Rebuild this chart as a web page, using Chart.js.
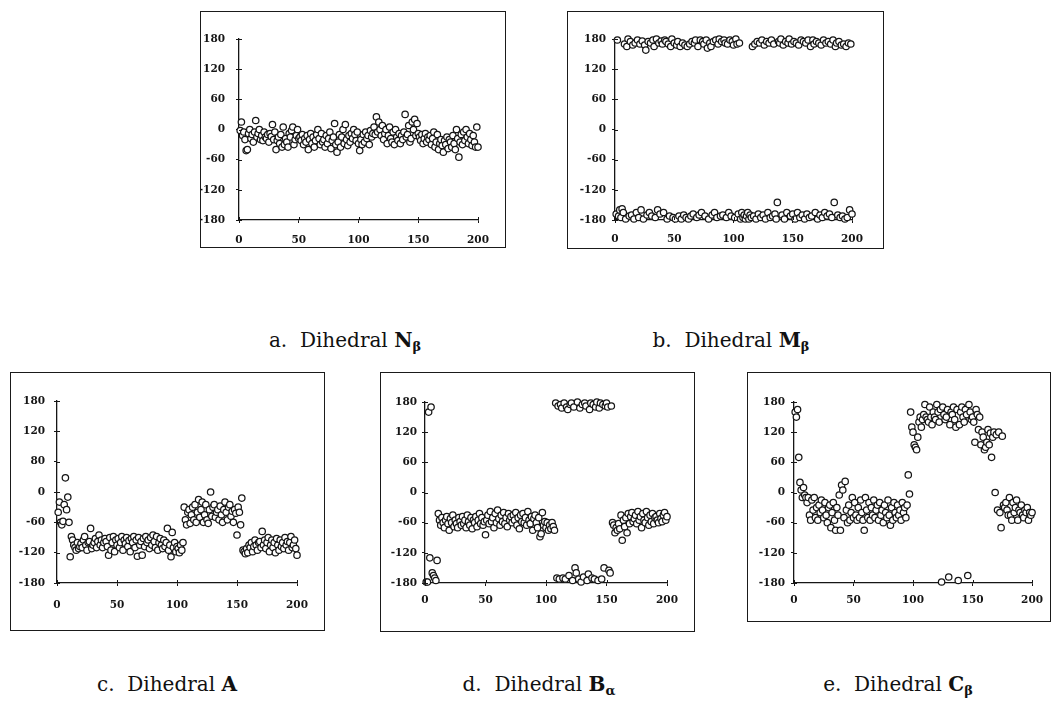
<!DOCTYPE html>
<html><head><meta charset="utf-8">
<script src="https://cdn.jsdelivr.net/npm/chart.js@4.4.1/dist/chart.umd.min.js"></script>
<style>
html,body{margin:0;padding:0;background:#fff;width:1051px;height:706px;overflow:hidden;}
.panel{position:absolute;}
.panel canvas{position:absolute;left:0;top:0;}
.frame{position:absolute;border:1.3px solid #1a1a1a;box-sizing:border-box;pointer-events:none;}
.cap{position:absolute;width:400px;text-align:center;font-family:"DejaVu Serif",serif;font-size:20px;line-height:24px;color:#111;white-space:nowrap;}
.cap b{font-weight:bold;}
.cap .sub{font-weight:bold;font-size:13px;vertical-align:-4px;}
</style></head><body>
<div class="cap" style="left:145px;top:328px;">a.&nbsp; Dihedral <b>N</b><span class="sub">β</span></div>
<div class="cap" style="left:531px;top:328px;">b.&nbsp; Dihedral <b>M</b><span class="sub">β</span></div>
<div class="cap" style="left:-33px;top:672px;">c.&nbsp; Dihedral <b>A</b></div>
<div class="cap" style="left:339px;top:672px;">d.&nbsp; Dihedral <b>B</b><span class="sub">α</span></div>
<div class="cap" style="left:698px;top:672px;">e.&nbsp; Dihedral <b>C</b><span class="sub">β</span></div>
<script>
// ---- data ----
const xTicks = [0, 50, 100, 150, 200];
const xLabels = ['0', '50', '100', '150', '200'];
const yTicks = [-180, -120, -60, 0, 60, 120, 180];
const yLabels = ['-180', '-120', '-60', '0', '60', '120', '180'];
const yLabelsC = ['-180', '-120', '-60', '0', '80', '120', '180'];

const dihedralNb = [
-2,15,-12,-5,-20,-42,-40,-8,0,-18,
-10,-25,-5,18,-15,-8,0,-20,-12,-22,
-5,-15,-18,-10,-25,-8,-14,10,-20,-5,
-40,-22,-15,-28,-10,-35,5,-30,-18,-25,
-35,-8,-15,-2,5,-30,-20,-12,0,-18,
-15,-22,-10,-30,-18,-25,-12,-40,-20,-8,
-28,-15,-35,-22,-10,0,-18,-30,-8,-25,
-20,-35,-12,-28,-18,-5,-38,-22,-15,12,
-30,-45,-25,-10,-35,-15,0,-28,10,-20,
-32,-12,-25,-8,-18,0,-10,-22,-5,-28,
-42,-20,-30,-10,-25,-5,-18,-12,-30,-2,
-15,-8,5,-10,25,-5,15,0,-12,8,
-20,-8,0,-28,-12,5,-18,-25,-5,-30,
0,-15,-22,-8,-28,-12,-20,-5,30,-15,
-10,8,-25,-18,15,0,20,-12,12,-8,
-15,-22,-10,-28,-18,-8,-25,-15,-20,-12,
-30,-18,-5,-35,-25,-10,-40,-28,-20,-32,
-45,-22,-30,-15,-38,-20,-25,-35,-12,-28,
-40,0,-18,-55,-25,-10,-30,-5,-22,0,
-15,-28,-8,-20,-32,-12,-25,-35,5,-35];

const dihedralMb = [
-168,178,-172,-160,-175,-158,-165,170,-178,165,
180,-172,175,-170,168,-178,172,-165,178,-175,
170,-160,176,-178,168,158,-170,175,-165,172,
-172,178,165,-175,180,-160,172,-168,176,170,
-165,178,175,-178,170,-172,165,180,-175,172,
-178,168,175,-172,165,-178,172,-170,168,-175,
165,-178,170,-172,175,-168,172,178,-175,165,
-170,178,-165,175,170,-172,178,162,-178,172,
165,-170,175,-165,178,-175,170,180,-172,175,
-170,178,172,-175,170,-165,178,-172,175,168,
-175,180,170,-168,172,-178,-165,-175,-170,-178,
-172,-165,-178,-170,-175,165,-172,170,-178,175,
-168,172,-175,178,-170,168,-178,175,-165,172,
-175,178,-172,170,-168,-178,-145,175,172,180,
-170,168,-178,175,-165,172,180,-172,170,-168,
175,-178,172,-165,168,-175,178,-170,175,-178,
172,-168,178,-175,165,-172,178,170,-165,175,
-178,172,-170,168,-175,178,-165,172,-172,175,
-168,170,-175,178,-145,165,172,-170,175,-175,
168,-172,170,-178,165,-175,172,-160,170,-168];

const dihedralA = [
-40,-20,-60,-65,-58,-25,28,-35,-10,-60,
-128,-88,-95,-105,-110,-115,-100,-112,-108,-102,
-110,-95,-88,-105,-115,-100,-98,-72,-112,-105,
-100,-92,-110,-98,-85,-105,-95,-110,-100,-92,
-98,-108,-125,-90,-115,-100,-88,-118,-95,-105,
-92,-110,-100,-88,-115,-95,-102,-90,-108,-96,
-118,-92,-100,-88,-110,-95,-127,-90,-105,-98,
-125,-92,-108,-88,-100,-95,-112,-90,-105,-85,
-98,-110,-88,-115,-100,-92,-105,-112,-95,-108,
-100,-72,-115,-105,-128,-80,-110,-100,-118,-108,
-112,-120,-105,-115,-100,-30,-55,-65,-40,-35,
-62,-45,-30,-55,-25,-60,-40,-15,-50,-35,
-20,-60,-45,-25,-55,-62,-35,0,-48,-30,
-25,-50,-40,-35,-55,-28,-45,-60,-35,-20,
-40,-55,-30,-25,-48,-38,-60,-35,-42,-85,
-30,-40,-65,-12,-115,-118,-122,-112,-120,-105,
-110,-100,-118,-108,-95,-105,-115,-100,-98,-110,
-78,-105,-95,-112,-100,-90,-118,-105,-95,-110,
-100,-120,-92,-105,-115,-95,-108,-100,-112,-90,
-105,-98,-115,-100,-88,-110,-105,-95,-112,-125];

const dihedralBa = [
-178,-178,160,-130,170,-160,-165,-170,-175,-135,
-42,-55,-65,-50,-60,-70,-55,-48,-62,-75,
-52,-60,-45,-68,-55,-62,-70,-50,-58,-65,
-48,-62,-55,-70,-45,-58,-65,-50,-72,-55,
-60,-48,-68,-55,-42,-62,-50,-65,-58,-84,
-55,-45,-62,-38,-58,-50,-70,-42,-60,-35,
-52,-65,-45,-58,-40,-62,-50,-68,-42,-55,
-48,-60,-45,-55,-40,-65,-50,-72,-45,-58,
-42,-60,-50,-65,-38,-55,-62,-48,-75,-52,
-45,-60,-70,-50,-88,-82,-40,-65,-58,-70,
-60,-75,-65,-72,-60,-68,-75,178,-170,172,
-172,175,168,-170,178,-172,170,165,-165,175,
178,-175,170,-150,-160,180,-172,168,-178,175,
-168,178,172,-175,-162,165,178,-170,175,-172,
170,180,-175,168,178,-172,175,-150,172,178,
170,-155,-160,172,-60,-65,-80,-70,-75,-62,
-72,-45,-95,-55,-68,-50,-80,-42,-62,-48,
-40,-58,-52,-45,-62,-38,-55,-48,-70,-42,
-55,-60,-38,-50,-65,-45,-58,-42,-62,-50,
-48,-55,-60,-42,-52,-58,-45,-40,-55,-48];

const dihedralCb = [
160,150,165,70,20,5,-10,10,-5,-10,
-20,-10,-45,-55,-15,-35,-10,-50,-30,-55,
-25,-40,-15,-35,-50,-20,-45,-60,-30,-25,
-70,-40,-20,-55,-75,-30,-45,-5,-75,15,
5,-50,22,-35,-60,-25,-55,-40,-10,-50,
-20,-45,-55,-30,-50,-15,-40,-55,-75,-10,
-35,-50,-20,-55,-30,-45,-15,-50,-35,-25,
-55,-20,-45,-35,-60,-25,-40,-50,-15,-45,
-65,-30,-55,-20,-40,-50,-25,-45,-35,-55,
-20,-40,-30,-50,-25,35,-3,160,130,120,
95,90,85,110,140,150,130,145,155,175,
150,145,140,170,150,135,160,150,145,175,
160,140,165,-178,170,155,145,150,165,-168,
135,160,155,170,145,130,165,-175,135,160,
170,150,140,165,155,-165,175,160,145,150,
140,100,165,155,125,150,95,120,110,85,
90,100,125,95,118,70,110,120,0,115,
-35,120,-40,-70,112,-25,-30,-20,-35,-45,
-10,-45,-55,-20,-40,-30,-15,-55,-35,-40,
-25,-45,-50,-35,-40,-30,-55,-40,-45,-40];

// ---- layout (page pixels) ----
const panels = [
  {values: dihedralNb, yText: yLabels,  frame: [200, 11, 506, 248],  area: [239, 39, 478, 220], yPad: 11, xPad: 11},
  {values: dihedralMb, yText: yLabels,  frame: [567, 11, 884, 249],  area: [615, 39, 852, 220], yPad: 6,  xPad: 10},
  {values: dihedralA,  yText: yLabelsC, frame: [10, 372, 325, 631],  area: [57, 401, 297, 583], yPad: 9,  xPad: 13},
  {values: dihedralBa, yText: yLabels,  frame: [380, 372, 695, 632], area: [425, 402, 667, 583], yPad: 5,  xPad: 8},
  {values: dihedralCb, yText: yLabels,  frame: [747, 372, 1051, 622], area: [794, 402, 1037, 583], yPad: 6, xPad: 8}
];

const TL = 3;
const tickFont = {family: 'DejaVu Serif', weight: 'bold', size: 10.5};
const ink = '#151515';

// tick marks that also cross to the inside of each axis line
const innerTicks = {
  id: 'innerTicks',
  afterDraw(chart) {
    const {ctx, chartArea: a, scales} = chart;
    ctx.save();
    ctx.strokeStyle = ink; ctx.lineWidth = 1;
    ctx.beginPath();
    scales.x.ticks.forEach(t => {
      const px = Math.round(scales.x.getPixelForValue(t.value)) + 0.5;
      ctx.moveTo(px, a.bottom); ctx.lineTo(px, a.bottom - TL);
    });
    scales.y.ticks.forEach(t => {
      const py = Math.round(scales.y.getPixelForValue(t.value)) + 0.5;
      ctx.moveTo(a.left, py); ctx.lineTo(a.left + TL, py);
    });
    ctx.stroke();
    ctx.restore();
  }
};

panels.forEach(p => {
  const [fl, ft, fr, fb] = p.frame;
  const [ax0, ay1, ax1, ay0] = p.area;
  const w = fr - fl, h = fb - ft;
  const YW = ax0 - fl, XH = fb - ay0;
  const div = document.createElement('div');
  div.className = 'panel';
  Object.assign(div.style, {left: fl + 'px', top: ft + 'px', width: w + 'px', height: h + 'px'});
  const cv = document.createElement('canvas');
  cv.width = w; cv.height = h;
  cv.style.width = w + 'px'; cv.style.height = h + 'px';
  div.appendChild(cv);
  const fr2 = document.createElement('div');
  fr2.className = 'frame';
  Object.assign(fr2.style, {left: '0px', top: '0px', width: w + 'px', height: h + 'px'});
  div.appendChild(fr2);
  document.body.appendChild(div);

  const steps = p.values.map((_, i) => i + 1);
  new Chart(cv.getContext('2d'), {
    type: 'scatter',
    data: {datasets: [{
      data: p.values.map((v, i) => ({x: steps[i], y: v})),
      pointRadius: 3.2, pointHoverRadius: 3.2, pointBorderWidth: 1.25,
      borderColor: ink, backgroundColor: '#fff', clip: false
    }]},
    plugins: [innerTicks],
    options: {
      responsive: false, animation: false, events: [],
      layout: {padding: {left: 0, top: ay1 - ft, right: fr - ax1, bottom: 0}},
      plugins: {legend: {display: false}, tooltip: {enabled: false}},
      scales: {
        x: {
          type: 'linear', min: 0, max: 200,
          afterBuildTicks: s => { s.ticks = xTicks.map(v => ({value: v})); },
          afterFit: s => { s.height = XH; },
          ticks: {autoSkip: false, maxRotation: 0, padding: p.xPad, color: ink, font: tickFont,
                  callback: (v, i) => xLabels[i]},
          grid: {display: true, drawOnChartArea: false, drawTicks: true, tickLength: TL, color: ink, lineWidth: 1},
          border: {display: true, color: ink, width: 1.3}
        },
        y: {
          type: 'linear', min: -180, max: 180,
          afterBuildTicks: s => { s.ticks = yTicks.map(v => ({value: v})); },
          afterFit: s => { s.width = YW; },
          ticks: {autoSkip: false, padding: p.yPad, color: ink, font: tickFont,
                  callback: (v, i) => p.yText[i]},
          grid: {display: true, drawOnChartArea: false, drawTicks: true, tickLength: TL, color: ink, lineWidth: 1},
          border: {display: true, color: ink, width: 1.3}
        }
      }
    }
  });
});
</script>
</body></html>
